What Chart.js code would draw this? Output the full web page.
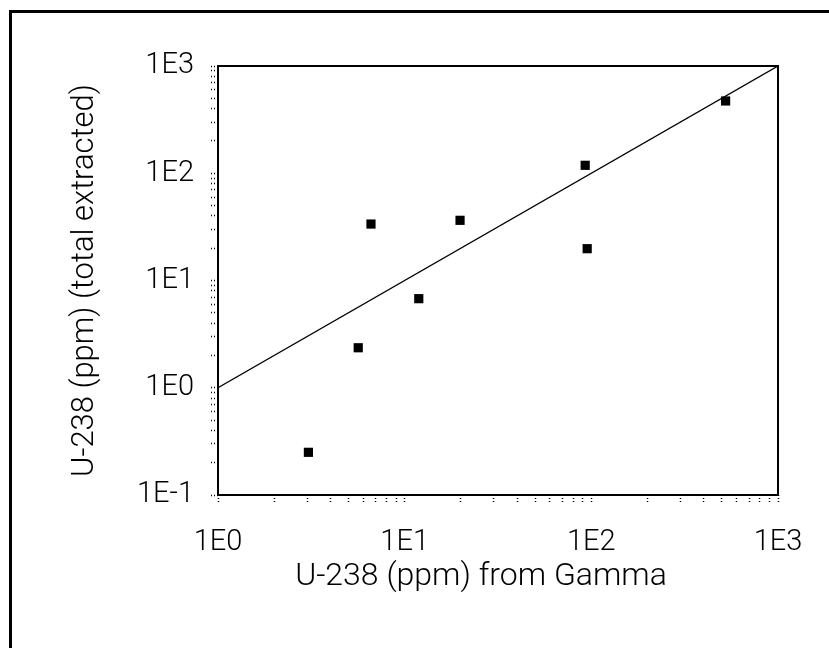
<!DOCTYPE html>
<html>
<head>
<meta charset="utf-8">
<script src="https://cdn.jsdelivr.net/npm/chart.js@4.4.1/dist/chart.umd.min.js"></script>
<style>
  html, body { margin: 0; padding: 0; background: #fff; }
  #frame { position: absolute; left: 9px; top: 10px; width: 900px; height: 700px;
           border-left: 3px solid #000; border-top: 3px solid #000; }
  #chart { position: absolute; left: 0; top: 0; }
</style>
</head>
<body>
<div id="frame"></div>
<canvas id="chart" width="829" height="648"></canvas>
<script>
// values
const gammaPpm     = [3.05, 5.64, 11.9, 6.6, 19.8, 92.7, 524, 95];
const extractedPpm = [0.25, 2.36, 6.77, 33.6, 36.4, 118.6, 472, 19.8];

// 1:1 line
const fitX = [1, 1000];
const fitY = [1, 1000];

const xTickLabels = ['1E0', '1E1', '1E2', '1E3'];
const yTickLabels = ['1E-1', '1E0', '1E1', '1E2', '1E3'];
const xTitle = 'U-238 (ppm) from Gamma';
const yTitle = 'U-238 (ppm) (total extracted)';

const FONT = 'Roboto, "Liberation Sans", Arial, sans-serif';

// 1..9 in every decade, plus the top one
function decadeTicks(minExp, maxExp) {
    const out = [];
    for (let e = minExp; e < maxExp; e++) {
        for (let d = 1; d <= 9; d++) out.push(d * Math.pow(10, e));
    }
    out.push(Math.pow(10, maxExp));
    return out;
}

function labelFor(labels, minExp) {
    return function (value) {
        const e = Math.round(Math.log10(value));
        if (Math.abs(value - Math.pow(10, e)) > 1e-9 * value) return '';
        return labels[e - minExp] || '';
    };
}

const plotFrame = {
    id: 'plotFrame',
    beforeDatasetsDraw(chart) {
        const a = chart.chartArea, c = chart.ctx;
        c.save();
        c.strokeStyle = '#000';
        c.lineWidth = 2;
        c.strokeRect(a.left, a.top, a.right - a.left, a.bottom - a.top);
        c.restore();
    }
};

const xAxisTitle = {
    id: 'xAxisTitle',
    afterDraw(chart) {
        const c = chart.ctx;
        c.save();
        c.font = '300 32px ' + FONT;
        c.fillStyle = '#000';
        c.textAlign = 'center';
        c.textBaseline = 'middle';
        c.fillText(xTitle, 481, 577);
        c.restore();
    }
};

const tickFont = { family: FONT, size: 29, weight: 300 };

new Chart(document.getElementById('chart'), {
    type: 'scatter',
    data: {
        datasets: [
            {
                type: 'line',
                data: fitX.map((x, i) => ({ x: x, y: fitY[i] })),
                borderColor: '#000',
                borderWidth: 1.3,
                pointRadius: 0,
                fill: false,
                order: 2
            },
            {
                data: gammaPpm.map((x, i) => ({ x: x, y: extractedPpm[i] })),
                pointStyle: 'rect',
                pointRadius: 6.5,
                backgroundColor: '#000',
                borderColor: '#000',
                borderWidth: 0,
                order: 1
            }
        ]
    },
    options: {
        responsive: false,
        animation: false,
        devicePixelRatio: 1,
        layout: { padding: { left: 0, top: 66, right: 51, bottom: 0 } },
        plugins: { legend: { display: false }, tooltip: { enabled: false } },
        scales: {
            x: {
                type: 'logarithmic',
                min: 1, max: 1000,
                afterBuildTicks: s => { s.ticks = decadeTicks(0, 3).map(v => ({ value: v })); },
                afterFit: s => { s.height = 153; },
                border: { display: false },
                grid: { drawOnChartArea: false, tickLength: 7, tickColor: '#000',
                        tickWidth: 1.5, tickBorderDash: [1, 2] },
                ticks: { autoSkip: false, maxRotation: 0, padding: 23, color: '#000',
                         font: tickFont, callback: labelFor(xTickLabels, 0) }
            },
            y: {
                type: 'logarithmic',
                min: 0.1, max: 1000,
                afterBuildTicks: s => { s.ticks = decadeTicks(-1, 3).map(v => ({ value: v })); },
                afterFit: s => { s.width = 218; },
                border: { display: false },
                grid: { drawOnChartArea: false, tickLength: 7, tickColor: '#000',
                        tickWidth: 1.5, tickBorderDash: [1, 2] },
                ticks: { autoSkip: false, padding: 17, color: '#000',
                         font: tickFont, callback: labelFor(yTickLabels, -1) },
                title: { display: true, text: yTitle, color: '#000',
                         font: { family: FONT, size: 31, weight: 300 }, padding: { top: 67, bottom: 0 } }
            }
        }
    },
    plugins: [plotFrame, xAxisTitle]
});
</script>
</body>
</html>
